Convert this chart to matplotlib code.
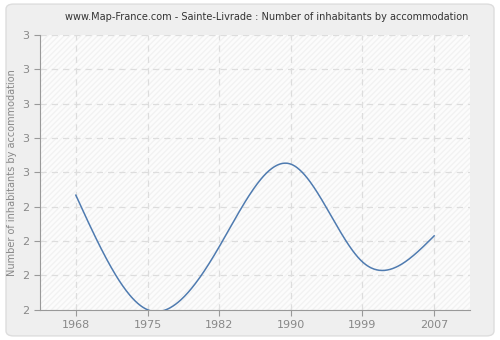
import numpy as np
import matplotlib.pyplot as plt
from matplotlib.patches import FancyBboxPatch

# Data
years = ['1968', '1975', '1982', '1990', '1999', '2007']
values = [2.417, 2.0, 2.229, 2.53, 2.174, 2.269]
y_ticks = [2.0, 2.125, 2.25, 2.375, 2.5, 2.625, 2.75, 2.875, 3.0]
y_labels = ['2', '2', '2', '2', '3', '3', '3', '3', '3']


def natural_spline(x, y, xs):
    n = len(x)
    h = np.diff(x)
    A = np.zeros((n, n))
    b = np.zeros(n)
    A[0, 0] = A[-1, -1] = 1
    for i in range(1, n - 1):
        A[i, i - 1] = h[i - 1]
        A[i, i] = 2 * (h[i - 1] + h[i])
        A[i, i + 1] = h[i]
        b[i] = 3 * ((y[i + 1] - y[i]) / h[i] - (y[i] - y[i - 1]) / h[i - 1])
    c = np.linalg.solve(A, b)
    out = np.empty_like(xs)
    for k, xv in enumerate(xs):
        i = min(max(np.searchsorted(x, xv) - 1, 0), n - 2)
        dx = xv - x[i]
        bb = (y[i + 1] - y[i]) / h[i] - h[i] * (2 * c[i] + c[i + 1]) / 3
        d = (c[i + 1] - c[i]) / (3 * h[i])
        out[k] = y[i] + bb * dx + c[i] * dx ** 2 + d * dx ** 3
    return out


x = np.arange(len(years), dtype=float)
xs = np.linspace(0, len(years) - 1, 400)
ys = natural_spline(x, np.array(values), xs)

fig = plt.figure(figsize=(5, 3.4), dpi=100)
fig.patch.set_facecolor('white')
bg = FancyBboxPatch((0.012, 0.012), 0.976, 0.976, boxstyle='round,pad=0,rounding_size=0.015',
                    transform=fig.transFigure, facecolor='#efefef', edgecolor='#dddddd',
                    linewidth=1, zorder=-10)
fig.patches.append(bg)

ax = fig.add_axes([0.08, 0.089, 0.86, 0.808])
ax.set_facecolor('#fcfcfc')
ax.add_patch(plt.Rectangle((0, 0), 1, 1, transform=ax.transAxes, facecolor='none',
                           edgecolor='#f2f2f2', hatch='//////', linewidth=0, zorder=0))

ax.plot(xs, ys, color='#4f7bb0', linewidth=1.1, zorder=3)

ax.set_xlim(-0.5, 5.5)
ax.set_ylim(2.0, 3.0)
ax.set_xticks(x)
ax.set_xticklabels(years)
ax.set_yticks(y_ticks)
ax.set_yticklabels(y_labels)

ax.grid(True, color='#dddddd', linestyle=(0, (5, 4)), linewidth=0.9)
for s in ['top', 'right']:
    ax.spines[s].set_visible(False)
for s in ['left', 'bottom']:
    ax.spines[s].set_color('#999999')
ax.tick_params(colors='#999999', labelcolor='#888888', labelsize=8, length=4)

ax.set_ylabel('Number of inhabitants by accommodation', color='#888888', fontsize=7)
fig.text(0.533, 0.95, 'www.Map-France.com - Sainte-Livrade : Number of inhabitants by accommodation',
         ha='center', va='center', fontsize=7, color='#333333')

fig.savefig('out.png', dpi=100, facecolor=fig.get_facecolor())
